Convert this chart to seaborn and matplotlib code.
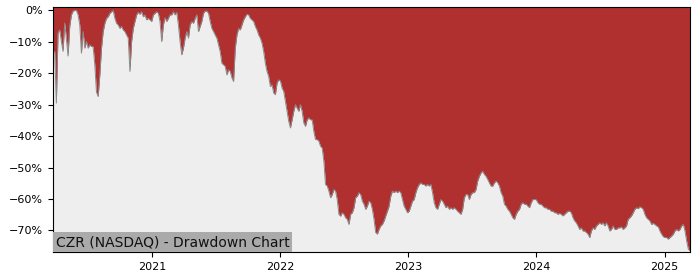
import numpy as np
import pandas as pd
import matplotlib
matplotlib.use("Agg")
import matplotlib.pyplot as plt
import matplotlib.dates as mdates
from matplotlib.ticker import PercentFormatter, MultipleLocator
import seaborn as sns

# ---- data (drawdown in %) ----
start_date = "2020-03-24"
end_date = "2025-03-14"

dd_2020a = [-13.1, -13.1, -29.5, -7.2, -6.2, -9.9, -13.0, -4.0, -9.0, -14.5,
            -5.0, -1.4, -0.2, 0.0, 0.0, -1.4, -4.6, -13.6, -6.7, -12.0,
            -9.9, -12.0, -10.9, -11.5, -11.5, -17.3, -26.0, -27.4, -20.5, -12.0,
            -6.7, -4.1, -2.5, -2.0, -0.9, -0.4, 0.0, -2.5, -4.1, -4.6,
            -5.7, -5.1, -6.2, -6.7, -7.8, -8.8, -19.4, -9.9, -5.7, -3.5,
            -1.4, -0.6, -1.2, -0.4, -2.0, -1.4, -3.0, -2.5, -3.0, -3.5, -1.4]
dd_2021 = [-0.9, -0.4, -0.9, -3.5, -9.9, -4.6, -2.3, -3.5, -2.5, -1.4,
           -1.4, -0.4, -1.4, -0.6, -4.6, -9.9, -14.1, -12.0, -8.8, -6.7,
           -8.8, -4.6, -3.5, -4.1, -2.5, -1.4, -6.7, -5.1, -3.5, -0.9,
           -0.2, -0.2, -0.9, -3.5, -5.7, -6.7, -7.8, -8.8, -11.0, -13.1,
           -16.8, -17.3, -17.8, -20.5, -18.9, -19.4, -21.5, -22.6, -12.0, -7.8,
           -5.7, -6.2, -4.6, -3.0, -2.0, -1.2, -1.4, -2.5, -3.0, -3.5,
           -5.1, -6.2, -7.8]
dd_2022 = [-8.8, -10.4, -13.1, -16.8, -19.4, -21.0, -24.2, -23.7, -26.3, -26.8,
           -23.1, -22.1, -22.4, -24.7, -25.8, -28.9, -32.1, -35.3, -37.4, -34.8,
           -32.1, -30.0, -31.1, -32.1, -30.0, -32.1, -35.8, -36.9, -34.8, -34.2,
           -34.8, -34.8, -38.5, -41.1, -41.1, -41.6, -43.2, -43.8, -48.0, -55.4,
           -55.9, -57.5, -59.6, -58.6, -57.0, -57.5, -60.2, -64.9, -65.5, -64.4,
           -64.9, -66.0, -66.5, -68.1, -64.9, -64.4, -62.8, -59.6, -59.1, -58.0,
           -58.6, -60.7, -61.7]
dd_2023 = [-63.3, -62.3, -60.7, -61.2, -63.3, -66.5, -70.7, -71.2, -69.7, -68.6,
           -68.1, -67.0, -65.4, -63.9, -62.3, -59.1, -57.5, -58.0, -57.5, -58.0,
           -57.5, -58.0, -60.2, -62.3, -63.3, -64.4, -63.9, -62.3, -60.7, -60.2,
           -58.0, -56.4, -55.4, -54.9, -55.4, -55.4, -55.9, -55.4, -55.9, -55.4,
           -58.0, -61.2, -62.8, -63.3, -61.7, -60.2, -60.7, -61.7, -62.8, -62.3,
           -63.3, -62.8, -63.3, -62.8, -63.3, -63.9, -64.4, -64.9, -63.3, -59.6,
           -58.6, -58.6, -60.2]
dd_2024 = [-58.6, -58.0, -58.0, -57.0, -54.3, -52.8, -51.7, -51.2, -52.2, -52.8,
           -53.8, -54.9, -55.9, -55.9, -54.9, -54.3, -54.9, -55.9, -58.0, -59.1,
           -61.7, -62.3, -63.3, -63.9, -64.9, -66.0, -66.5, -64.9, -63.9, -63.3,
           -61.7, -61.2, -61.7, -61.7, -62.3, -62.8, -61.2, -60.2, -60.2, -60.2,
           -61.2, -61.7, -61.7, -62.3, -62.8, -62.8, -63.3, -63.3, -63.9, -63.9,
           -64.4, -64.4, -64.9, -64.6, -64.9, -65.4, -64.9, -64.4, -63.9, -63.9,
           -64.4, -66.0, -67.0]
dd_2025 = [-67.6, -68.6, -69.7, -69.2, -70.2, -70.2, -70.7, -71.2, -72.3, -70.2,
           -69.2, -69.7, -68.6, -68.1, -67.6, -68.1, -67.6, -68.6, -67.6, -68.6,
           -70.2, -69.7, -68.6, -69.7, -69.7, -69.2, -69.2, -68.9, -69.7, -69.2,
           -68.6, -66.5, -66.0, -65.4, -64.4, -63.3, -62.8, -63.1, -62.5, -62.8,
           -63.3, -64.9, -66.0, -66.5, -67.0, -68.1, -67.8, -68.1, -68.6, -68.9,
           -70.2, -71.2, -72.0, -72.3, -72.3, -72.8, -72.3, -71.8, -71.2, -70.2,
           -69.7, -70.2, -69.7, -68.6, -68.1, -70.2, -73.4, -76.0, -76.5]

title_text = "CZR (NASDAQ) - Drawdown Chart"
y_top, y_bottom = 1.1, -76.9

drawdown = np.array(dd_2020a + dd_2021 + dd_2022 + dd_2023 + dd_2024 + dd_2025)
dates = pd.date_range(start_date, end_date, periods=len(drawdown))
df = pd.DataFrame({"date": dates, "drawdown": drawdown})

# ---- plot ----
fig = plt.figure(figsize=(7, 2.8), dpi=100)
ax = fig.add_axes([53 / 700, 1 - 252 / 280, (690 - 53) / 700, (252 - 7) / 280])
ax.set_facecolor("#eeeeee")

ax.fill_between(df["date"], df["drawdown"], y_top, color="#b03030", linewidth=0)
sns.lineplot(data=df, x="date", y="drawdown", ax=ax, color="#8a8a8a", linewidth=0.7)

ax.set_xlim(df["date"].iloc[0], df["date"].iloc[-1])
ax.set_ylim(y_bottom, y_top)
ax.yaxis.set_major_locator(MultipleLocator(10))
ax.yaxis.set_major_formatter(PercentFormatter(100, decimals=0))
ax.xaxis.set_major_locator(mdates.YearLocator())
ax.xaxis.set_major_formatter(mdates.DateFormatter("%Y"))
ax.tick_params(labelsize=8)
ax.set_xlabel("")
ax.set_ylabel("")

ax.annotate(title_text, xy=(0, 0), xycoords="axes fraction",
            xytext=(2, 2), textcoords="offset points",
            ha="left", va="bottom", fontsize=10, color="#111111",
            bbox=dict(boxstyle="square,pad=0.2", fc="#aaaaaa", ec="none"))

fig.savefig("out.png", dpi=100)
